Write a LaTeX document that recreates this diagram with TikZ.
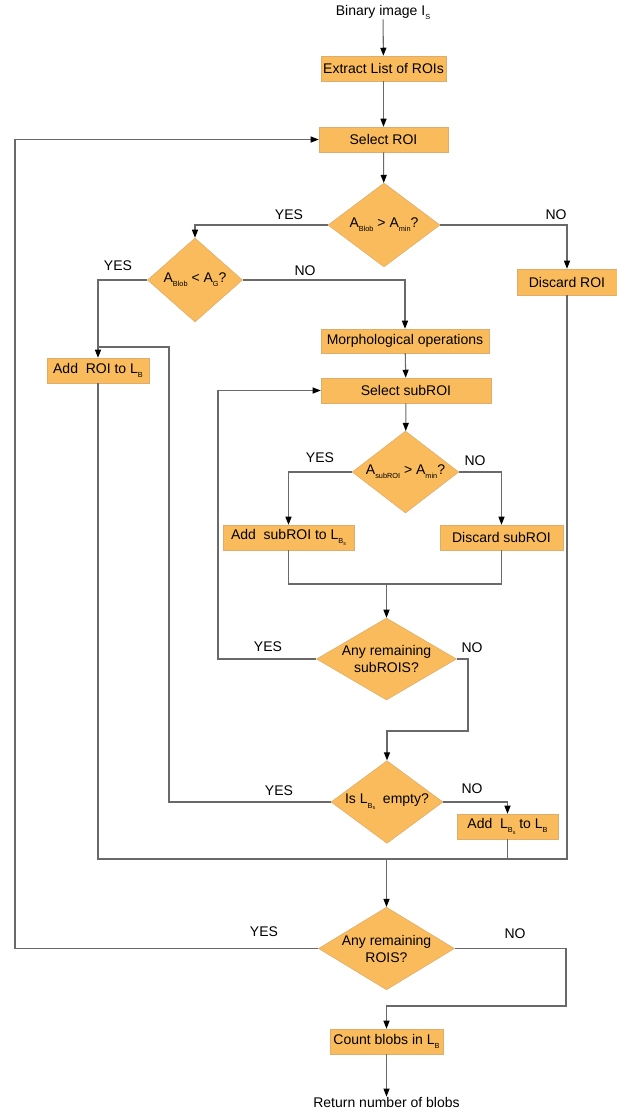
\documentclass[tikz,border=0pt]{standalone}
\usepackage{fontspec}
\setmainfont{Liberation Sans}
\usetikzlibrary{arrows.meta, shapes.geometric}
\definecolor{boxfill}{RGB}{250,187,92}
\definecolor{boxline}{RGB}{222,172,108}
\definecolor{linegray}{RGB}{105,105,105}
\newcommand{\ssub}[1]{\raisebox{-0.55ex}{\fontsize{5.5}{6}\selectfont #1}}
\newcommand{\sssub}[1]{\raisebox{-0.45ex}{\fontsize{4}{4}\selectfont #1}}

\begin{document}
\begin{tikzpicture}[
    x=0.75pt, y=-0.75pt,
    every node/.style={font=\fontsize{10.5}{12.75}\selectfont, inner sep=0pt},
    box/.style={draw=boxline, fill=boxfill, thin, minimum height=18.75pt},
    decision/.style={diamond, draw=boxline, fill=boxfill, thin, align=center, shape aspect=1.7},
    lbl/.style={},
    line/.style={draw=linegray, line width=0.8pt},
    arrow/.style={line, -{Triangle[length=6pt, width=4.5pt, black]}}
]
\useasboundingbox (0,0) rectangle (617,1108);

% Nodes
\node (input) at (383,12) {Binary image I\ssub{S}};
\node[box, minimum width=93.75pt] (extract) at (383.5,68.5) {Extract List of ROIs};
\node[box, minimum width=96.75pt] (selroi) at (383.5,139.5) {Select ROI};
\node[decision, minimum width=84pt, minimum height=63pt] (blobmin) at (384,225) {A\ssub{Blob} > A\ssub{min}?};
\node[decision, minimum width=71.25pt, minimum height=63pt] (blobg) at (195,280) {A\ssub{Blob} < A\ssub{G}?};
\node[box, minimum width=75pt, minimum height=19.5pt] (discroi) at (567,282) {Discard ROI};
\node[box, minimum width=76.5pt] (addroi) at (98,370.5) {Add~~ROI to L\ssub{B}};
\node[box, minimum width=126pt, minimum height=18pt] (morph) at (405,341) {Morphological operations};
\node[box, minimum width=127.5pt] (selsub) at (406,390.5) {Select subROI};
\node[decision, minimum width=80pt, minimum height=61.5pt] (submin) at (405.5,472) {A\ssub{subROI} > A\ssub{min}?};
\node[box, minimum width=98.25pt] (addsub) at (288.5,537.5) {Add~~subROI to L\ssub{B\sssub{s}}};
\node[box, minimum width=92.25pt] (discsub) at (501.5,537.5) {Discard subROI};
\node[decision, minimum width=105pt, minimum height=61.5pt] (anysub) at (386.5,659) {Any remaining\\subROIS?};
\node[decision, minimum width=84pt, minimum height=62pt] (empty) at (387,802) {Is L\ssub{B\sssub{s}}~~empty?};
\node[box, minimum width=75.75pt] (addlb) at (507.5,826.5) {Add~~L\ssub{B\sssub{s}}~to L\ssub{B}};
\node[decision, minimum width=102pt, minimum height=62pt] (anyroi) at (386.5,948.5) {Any remaining\\ROIS?};
\node[box, minimum width=84.75pt] (count) at (386.5,1041.5) {Count blobs in L\ssub{B}};
\node (output) at (386.5,1102) {Return number of blobs};

% Branch labels
\node[lbl] (yes1) at (289,215) {YES};
\node[lbl] (no1) at (556,215) {NO};
\node[lbl] (yes2) at (118,266) {YES};
\node[lbl] (no2) at (305,271) {NO};
\node[lbl] (yes3) at (320,458) {YES};
\node[lbl] (no3) at (475,461) {NO};
\node[lbl] (yes4) at (268,647) {YES};
\node[lbl] (no4) at (472,648) {NO};
\node[lbl] (yes5) at (279,791) {YES};
\node[lbl] (no5) at (472,789) {NO};
\node[lbl] (yes6) at (264,932) {YES};
\node[lbl] (no6) at (515,934) {NO};

% Bends
\coordinate (looproi) at (15,139.5);
\coordinate (loopsub) at (218,390.5);
\coordinate (joinsub) at (386.5,584);
\coordinate (bendsub) at (468,731);
\coordinate (bendempty) at (169,347);
\coordinate (joinroi) at (386.5,859);
\coordinate (bendend) at (566,1006);

% Arrows
\draw[arrow] (input) -- (extract);
\draw[arrow] (extract) -- (selroi);
\draw[arrow] (selroi) -- (blobmin);
\draw[arrow] (blobmin.west) -| (blobg.north);
\draw[arrow] (blobmin.east) -| (discroi.north);
\draw[arrow] (blobg.west) -| (addroi.north);
\draw[arrow] (blobg.east) -| (morph.north);
\draw[arrow] (morph) -- (selsub);
\draw[arrow] (selsub) -- (submin);
\draw[arrow] (submin.west) -| (addsub.north);
\draw[arrow] (submin.east) -| (discsub.north);
\draw[line] (addsub.south) |- (joinsub) -| (discsub.south);
\draw[arrow] (joinsub) -- (anysub.north);
\draw[arrow] (anysub.west) -| (loopsub) -- (selsub.west);
\draw[arrow] (anysub.east) -| (bendsub) -| (empty.north);
\draw[line] (empty.west) -| (bendempty) -- (addroi.north |- bendempty);
\draw[arrow] (empty.east) -| (addlb.north);
\draw[line] (addroi.south) |- (joinroi);
\draw[line] (discroi.south) |- (joinroi);
\draw[line] (addlb.south) |- (joinroi);
\draw[arrow] (joinroi) -- (anyroi.north);
\draw[arrow] (anyroi.west) -| (looproi) -- (selroi.west);
\draw[arrow] (anyroi.east) -| (bendend) -| (count.north);
\draw[arrow] (count) -- (output);

\end{tikzpicture}
\end{document}
